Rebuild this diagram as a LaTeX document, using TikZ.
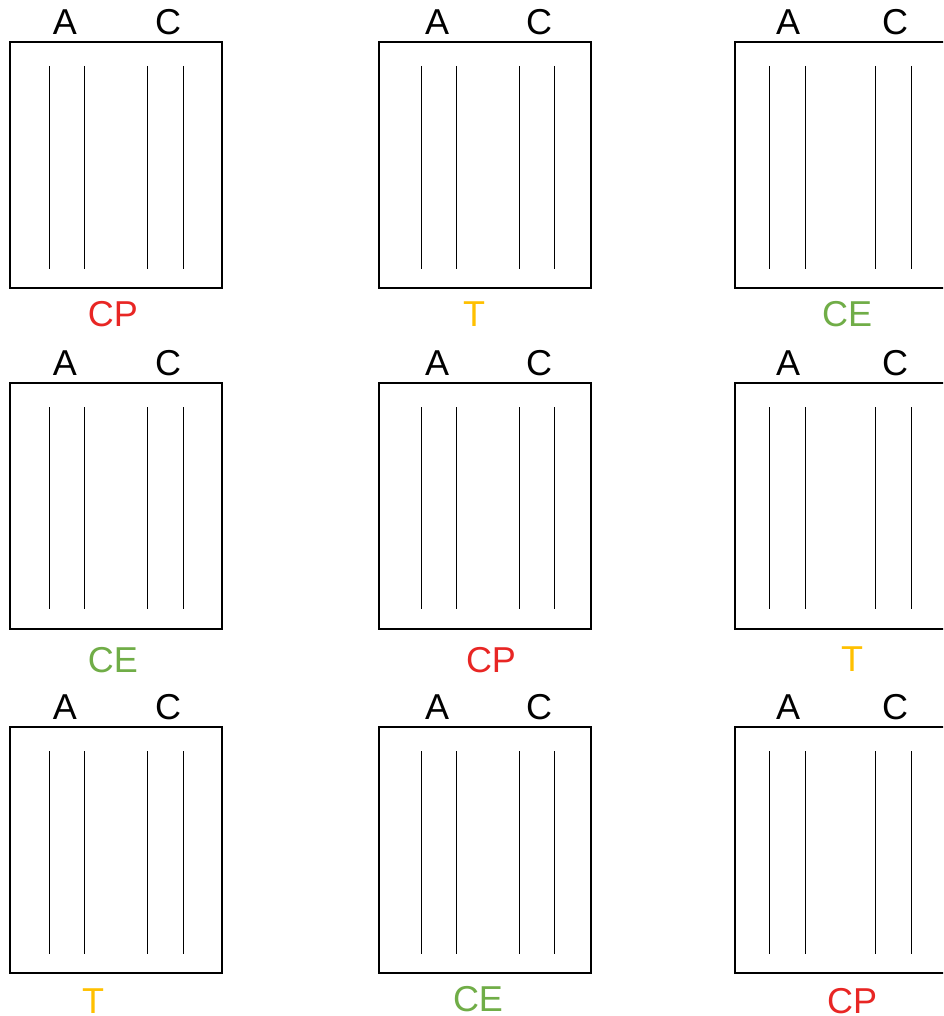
\documentclass[tikz,border=0pt]{standalone}
\usepackage{fontspec}
\setmainfont{Liberation Sans}
\definecolor{cpred}{RGB}{232,38,36}
\definecolor{tyel}{RGB}{255,192,0}
\definecolor{cegreen}{RGB}{112,173,71}
\begin{document}
\begin{tikzpicture}[x=1pt,y=-1pt,
  box/.style={draw, line width=2pt, minimum width=212pt, minimum height=246pt, anchor=north west, inner sep=0pt, outer sep=0pt},
  strand/.style={line width=0.9pt},
  end/.style={font=\fontsize{36}{36}\selectfont, inner sep=0pt},
  tag/.style={font=\fontsize{36}{36}\selectfont, inner sep=0pt}]
\useasboundingbox (0,0) rectangle (943,1016);
\clip (0,0) rectangle (943,1016);
% columns: name/box x/line xs/A x/C x
\foreach \c/\bx/\la/\lb/\lc/\ld/\ax/\cx in {1/10/49/84/147/183/65/168, 2/379/421/456/519/554/437/539, 3/735/769/805/875/911/788/895}{
  \foreach \r/\by/\ta/\tb/\ey in {1/42/66/269/22, 2/383/407/609/363, 3/727/751/954/707}{
    \node[box] (box\c\r) at (\bx,\by) {};
    \draw[strand] (\la,\ta) -- (\la,\tb);
    \draw[strand] (\lb,\ta) -- (\lb,\tb);
    \draw[strand] (\lc,\ta) -- (\lc,\tb);
    \draw[strand] (\ld,\ta) -- (\ld,\tb);
    \node[end] (a\c\r) at (\ax,\ey) {A};
    \node[end] (c\c\r) at (\cx,\ey) {C};
  }
}
\node[tag, text=cpred] (l11) at (113,314) {CP};
\node[tag, text=cegreen] (l12) at (113,660) {CE};
\node[tag, text=tyel] (l13) at (93,1001) {T};
\node[tag, text=tyel] (l21) at (474,314) {T};
\node[tag, text=cpred] (l22) at (491,660) {CP};
\node[tag, text=cegreen] (l23) at (478,999) {CE};
\node[tag, text=cegreen] (l31) at (847,314) {CE};
\node[tag, text=tyel] (l32) at (852,659) {T};
\node[tag, text=cpred] (l33) at (852,1001) {CP};
\end{tikzpicture}
\end{document}
